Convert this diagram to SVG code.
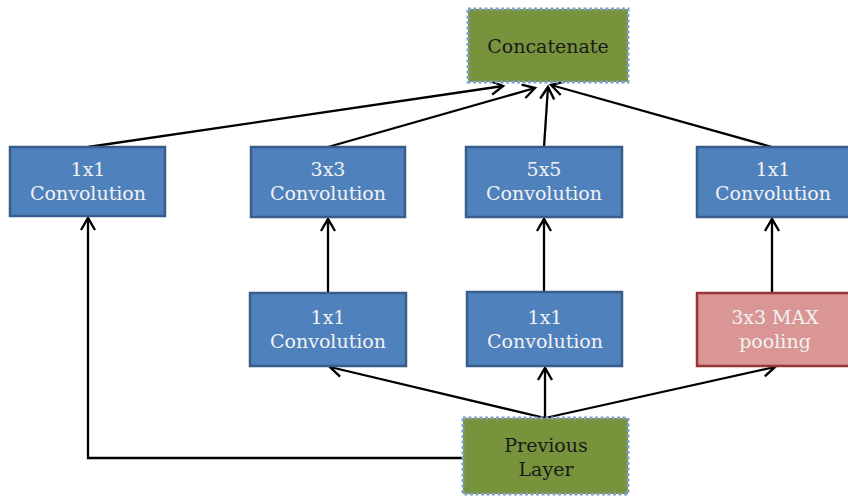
<svg xmlns="http://www.w3.org/2000/svg" width="848" height="497" viewBox="0 0 848 497">
<defs>
<marker id="ah" markerUnits="userSpaceOnUse" markerWidth="18" markerHeight="18" refX="14" refY="9" orient="auto" viewBox="0 0 18 18">
<path d="M2,2 L14,9 L2,16" fill="none" stroke="#000" stroke-width="2.4"/>
</marker>
</defs>
<style>
.conv{fill:#4f81bd;stroke:#385d8a;stroke-width:2.5}
.pool{fill:#d99694;stroke:#953735;stroke-width:2.5}
.green{fill:#77933c;stroke:#7f9fc6;stroke-width:3;stroke-dasharray:3 2.5}
.t{font-family:"DejaVu Serif","Liberation Serif",serif;font-size:19px;text-anchor:middle}
.w{fill:#f2f2f2}
.d{fill:#1a1a1a}
.c{fill:none;stroke:#000;stroke-width:2.3}
</style>
<g id="connectors">
<line class="c" x1="88" y1="147" x2="503" y2="86" marker-end="url(#ah)"/>
<line class="c" x1="328" y1="147" x2="535" y2="88" marker-end="url(#ah)"/>
<line class="c" x1="544" y1="147" x2="548" y2="87" marker-end="url(#ah)"/>
<line class="c" x1="772" y1="147" x2="551" y2="85" marker-end="url(#ah)"/>
<line class="c" x1="328" y1="293" x2="328" y2="219" marker-end="url(#ah)"/>
<line class="c" x1="544" y1="292" x2="544" y2="219" marker-end="url(#ah)"/>
<line class="c" x1="772" y1="292" x2="772" y2="219" marker-end="url(#ah)"/>
<line class="c" x1="545" y1="418" x2="330" y2="367" marker-end="url(#ah)"/>
<line class="c" x1="545" y1="418" x2="545" y2="368" marker-end="url(#ah)"/>
<line class="c" x1="545" y1="418" x2="775" y2="367" marker-end="url(#ah)"/>
<polyline class="c" points="463,458 88,458 88,218" marker-end="url(#ah)"/>
</g>
<g id="concatenate">
<rect class="green" x="468" y="9" width="160" height="73"/>
<text class="t d" x="548" y="53">Concatenate</text>
</g>
<g id="conv1x1-left">
<rect class="conv" x="10" y="147" width="155" height="69"/>
<text class="t w" x="88" y="176">1x1</text>
<text class="t w" x="88" y="200">Convolution</text>
</g>
<g id="conv3x3">
<rect class="conv" x="251" y="147" width="154" height="70"/>
<text class="t w" x="328" y="176">3x3</text>
<text class="t w" x="328" y="200">Convolution</text>
</g>
<g id="conv5x5">
<rect class="conv" x="466" y="147" width="156" height="70"/>
<text class="t w" x="544" y="176">5x5</text>
<text class="t w" x="544" y="200">Convolution</text>
</g>
<g id="conv1x1-right">
<rect class="conv" x="697" y="147" width="155" height="70"/>
<text class="t w" x="773" y="176">1x1</text>
<text class="t w" x="773" y="200">Convolution</text>
</g>
<g id="conv1x1-a">
<rect class="conv" x="250" y="293" width="156" height="73"/>
<text class="t w" x="328" y="324">1x1</text>
<text class="t w" x="328" y="348">Convolution</text>
</g>
<g id="conv1x1-b">
<rect class="conv" x="467" y="292" width="155" height="74"/>
<text class="t w" x="545" y="324">1x1</text>
<text class="t w" x="545" y="348">Convolution</text>
</g>
<g id="maxpool">
<rect class="pool" x="697" y="293" width="155" height="73"/>
<text class="t w" x="775" y="324">3x3 MAX</text>
<text class="t w" x="775" y="348">pooling</text>
</g>
<g id="previous-layer">
<rect class="green" x="463" y="418" width="165" height="76"/>
<text class="t d" x="546" y="452">Previous</text>
<text class="t d" x="546" y="476">Layer</text>
</g>
</svg>
